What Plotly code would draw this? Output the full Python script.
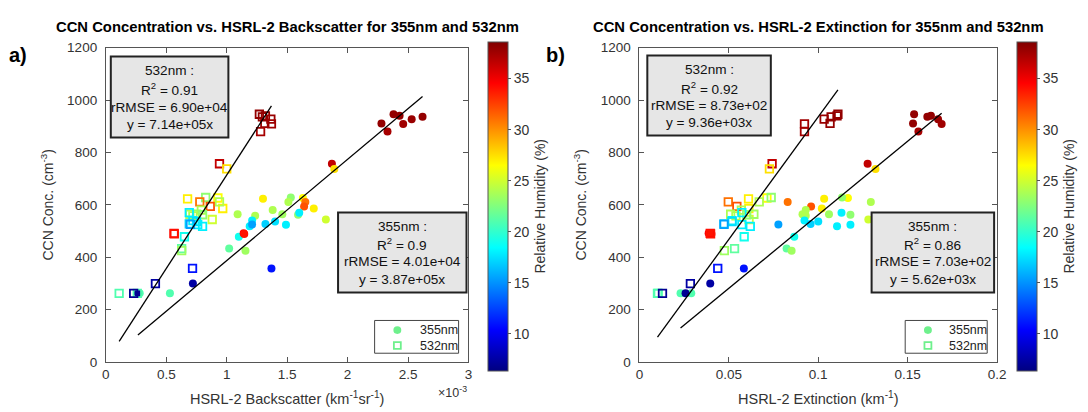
import plotly.graph_objects as go

# ---------------- data ----------------
ccn = [262, 946, 940, 936, 927, 911, 909, 880, 757, 737,
       626, 623, 628, 611, 594, 586, 611, 544, 564, 558,
       580, 564, 562, 570, 540, 527, 536, 524, 518, 525,
       478, 491, 489, 433, 425, 357, 299, 262, 262]
rh = [21.0, 38.0, 38.0, 38.0, 37.8, 38.0, 37.6, 37.4, 36.5, 27.5,
      26.5, 27.0, 23.0, 31.0, 32.0, 27.0, 24.0, 25.0, 24.0, 24.0,
      24.0, 23.5, 23.0, 18.0, 18.0, 17.0, 17.5, 18.0, 18.0, 15.5,
      19.0, 34.5, 34.0, 21.5, 23.5, 11.0, 7.5, 21.0, 7.0]
bsc355 = [0.53e-3, 2.38e-3, 2.43e-3, 2.62e-3, 2.53e-3, 2.28e-3, 2.46e-3, 2.33e-3, 1.87e-3, 1.89e-3,
          1.63e-3, 1.30e-3, 1.53e-3, 1.65e-3, 1.64e-3, 1.72e-3, 1.51e-3, 1.82e-3, 1.09e-3, 1.235e-3,
          1.38e-3, 1.46e-3, 1.59e-3, 1.60e-3, 1.21e-3, 1.32e-3, 1.40e-3, 1.49e-3, 1.19e-3, 1.21e-3,
          1.10e-3, 1.14e-3, 1.145e-3, 1.02e-3, 1.155e-3, 1.37e-3, 0.72e-3, 0.28e-3, 0.265e-3]
bsc532 = [0.11e-3, 1.27e-3, 1.32e-3, 1.295e-3, 1.365e-3, 1.315e-3, 1.37e-3, 1.28e-3, 0.94e-3, 1.00e-3,
          0.927e-3, 0.676e-3, 0.826e-3, 0.777e-3, 0.864e-3, 0.967e-3, 0.94e-3, 0.88e-3, 0.695e-3, 0.72e-3,
          0.79e-3, 0.75e-3, 0.80e-3, 0.69e-3, 0.72e-3, 0.69e-3, 0.75e-3, 0.76e-3, 0.80e-3, 0.70e-3,
          0.65e-3, 0.564e-3, 0.566e-3, 0.627e-3, 0.627e-3, 0.717e-3, 0.41e-3, 0.26e-3, 0.23e-3]
ext355 = [0.0290, 0.1536, 0.1630, 0.1610, 0.1670, 0.1530, 0.1690, 0.1560, 0.1276, 0.1320,
          0.1166, 0.1033, 0.1133, 0.0829, 0.0960, 0.1020, 0.1294, 0.1280, 0.0912, 0.0930,
          0.0930, 0.1060, 0.1180, 0.1130, 0.0923, 0.0957, 0.1000, 0.1180, 0.1105, 0.0777,
          0.0866, 0.0387, 0.0403, 0.0823, 0.0851, 0.0584, 0.0396, 0.0230, 0.0258]
ext532 = [0.0101, 0.1110, 0.1105, 0.1072, 0.1033, 0.1066, 0.0923, 0.0923, 0.0742, 0.0727,
          0.0713, 0.0610, 0.0737, 0.0497, 0.0545, 0.0612, 0.0670, 0.0613, 0.0510, 0.0540,
          0.0570, 0.0640, 0.0600, 0.0573, 0.0518, 0.0473, 0.0518, 0.0573, 0.0620, 0.0473,
          0.0586, 0.0396, 0.0398, 0.0532, 0.0475, 0.0438, 0.0285, 0.0105, 0.0129]

# fit statistics shown in the text boxes
slope_bsc = {"532nm": 7.14e5, "355nm": 3.87e5}
slope_ext = {"532nm": 9.36e3, "355nm": 5.62e3}
r2_bsc = {"532nm": "0.91", "355nm": "0.9"}
r2_ext = {"532nm": "0.92", "355nm": "0.86"}
rrmse_bsc = {"532nm": "6.90e+04", "355nm": "4.01e+04"}
rrmse_ext = {"532nm": "8.73e+02", "355nm": "7.03e+02"}
slope_txt_bsc = {"532nm": "7.14e+05", "355nm": "3.87e+05"}
slope_txt_ext = {"532nm": "9.36e+03", "355nm": "5.62e+03"}

x_ticks_bsc = [0, 0.5e-3, 1e-3, 1.5e-3, 2e-3, 2.5e-3, 3e-3]
x_ticklabels_bsc = ["0", "0.5", "1", "1.5", "2", "2.5", "3"]
x_ticks_ext = [0, 0.05, 0.1, 0.15, 0.2]
y_ticks = [0, 200, 400, 600, 800, 1000, 1200]
cbar_ticks = [10, 15, 20, 25, 30, 35]
legend_names = ["355nm", "532nm"]
legend_color = "rgb(110,240,140)"

# ---------------- layout helpers ----------------
W, H = 1088, 412
FONT = "Liberation Sans, Arial, Helvetica, sans-serif"
def px(x): return x / W
def py(y): return 1 - y / H

jet = [[0.0, "rgb(0,0,128)"], [0.125, "rgb(0,0,255)"], [0.375, "rgb(0,255,255)"],
       [0.625, "rgb(255,255,0)"], [0.875, "rgb(255,0,0)"], [1.0, "rgb(128,0,0)"]]

fig = go.Figure()

panels = [
    dict(xs={"355nm": bsc355, "532nm": bsc532}, slope=slope_bsc, xa="x", ya="y", ca="coloraxis"),
    dict(xs={"355nm": ext355, "532nm": ext532}, slope=slope_ext, xa="x2", ya="y2", ca="coloraxis2"),
]

for p in panels:
    for name, sym, lw in [("355nm", "circle", 0), ("532nm", "square-open", 1.8)]:
        fig.add_trace(go.Scatter(
            x=p["xs"][name], y=ccn, mode="markers", name=name, showlegend=False,
            xaxis=p["xa"], yaxis=p["ya"],
            marker=dict(symbol=sym, size=8 if sym == "circle" else 7.5, color=rh,
                        coloraxis=p["ca"], line=dict(width=lw)),
        ))
    for name in ["532nm", "355nm"]:
        xs = p["xs"][name]
        xl = [min(xs), max(xs)]
        fig.add_trace(go.Scatter(
            x=xl, y=[p["slope"][name] * v for v in xl], mode="lines",
            line=dict(color="black", width=1.3), showlegend=False,
            xaxis=p["xa"], yaxis=p["ya"], hoverinfo="skip"))

axis_common = dict(showline=True, linecolor="#555", linewidth=1, mirror="ticks",
                   ticks="inside", ticklen=5, tickcolor="#555", showgrid=False,
                   zeroline=False, tickfont=dict(size=13.5, color="#333", family=FONT))
ydom = [py(360), py(34)]

def cbar(x0):
    return dict(x=px(x0), xanchor="left", xpad=0, ypad=0,
                y=py((34 + 363) / 2), yanchor="middle",
                len=329, lenmode="pixels", thickness=20, thicknessmode="pixels",
                outlinewidth=1, outlinecolor="#555",
                tickvals=cbar_ticks, ticks="outside", ticklen=3, tickcolor="#555",
                tickfont=dict(size=14, color="#333", family=FONT),
                title=dict(text="Relative Humidity (%)", side="right",
                           font=dict(size=14, color="#333", family=FONT)))

ytitle = dict(text="CCN Conc. (cm<sup>-3</sup>)", font=dict(size=14, color="#333"), standoff=10)

fig.update_layout(
    width=W, height=H, margin=dict(l=0, r=0, t=0, b=0),
    paper_bgcolor="white", plot_bgcolor="white",
    font=dict(family=FONT, color="#333"),
    showlegend=False,
    xaxis=dict(domain=[px(95), px(462)], range=[0, 3e-3], anchor="y",
               tickvals=x_ticks_bsc, ticktext=x_ticklabels_bsc,
               title=dict(text="HSRL-2 Backscatter (km<sup>-1</sup>sr<sup>-1</sup>)",
                          font=dict(size=14.5, color="#333"), standoff=12),
               **axis_common),
    yaxis=dict(domain=ydom, range=[0, 1200], anchor="x", tickvals=y_ticks,
               ticklabelstandoff=5, title=ytitle, **axis_common),
    xaxis2=dict(domain=[px(635), px(997)], range=[0, 0.2], anchor="y2",
                tickvals=x_ticks_ext,
                title=dict(text="HSRL-2 Extinction (km<sup>-1</sup>)",
                           font=dict(size=14.5, color="#333"), standoff=12),
                **axis_common),
    yaxis2=dict(domain=ydom, range=[0, 1200], anchor="x2", tickvals=y_ticks,
                ticklabelstandoff=5, title=ytitle, **axis_common),
    coloraxis=dict(colorscale=jet, cmin=6.4, cmax=38.6, colorbar=cbar(482)),
    coloraxis2=dict(colorscale=jet, cmin=6.4, cmax=38.6, colorbar=cbar(1017)),
)

shapes = []
annots = []

def textbox(x0, x1, y0, y1, lines_y, label, r2, rr, sl):
    shapes.append(dict(type="rect", xref="paper", yref="paper",
                       x0=px(x0), x1=px(x1), y0=py(y1), y1=py(y0),
                       line=dict(color="#222", width=2), fillcolor="#e6e6e6", layer="above"))
    texts = [f"{label} :", f"R<sup>2</sup> = {r2}", f"rRMSE = {rr}", f"y = {sl}x"]
    for t, yy in zip(texts, lines_y):
        annots.append(dict(text=t, x=px((x0 + x1) / 2), y=py(yy), xref="paper", yref="paper",
                           showarrow=False, xanchor="center", yanchor="middle",
                           font=dict(size=13.6, color="#111", family=FONT)))

textbox(100, 219, 43, 127, [58, 77, 96, 114], "532nm",
        r2_bsc["532nm"], rrmse_bsc["532nm"], slope_txt_bsc["532nm"])
textbox(330, 460, 205, 288, [219, 238, 256, 274], "355nm",
        r2_bsc["355nm"], rrmse_bsc["355nm"], slope_txt_bsc["355nm"])
textbox(643, 768, 42, 125, [57, 76, 94, 112], "532nm",
        r2_ext["532nm"], rrmse_ext["532nm"], slope_txt_ext["532nm"])
textbox(870, 994, 205, 288, [219, 238, 256, 274], "355nm",
        r2_ext["355nm"], rrmse_ext["355nm"], slope_txt_ext["355nm"])

def legend_box(x0, x1, y0, y1, mx, tx):
    shapes.append(dict(type="rect", xref="paper", yref="paper",
                       x0=px(x0), x1=px(x1), y0=py(y1), y1=py(y0),
                       line=dict(color="#444", width=1), fillcolor="white", layer="above"))
    yc = [y0 + 10, y0 + 26]
    shapes.append(dict(type="circle", xref="paper", yref="paper",
                       x0=px(mx - 4), x1=px(mx + 4), y0=py(yc[0] + 4), y1=py(yc[0] - 4),
                       line=dict(width=0), fillcolor=legend_color, layer="above"))
    shapes.append(dict(type="rect", xref="paper", yref="paper",
                       x0=px(mx - 3.5), x1=px(mx + 3.5), y0=py(yc[1] + 3.5), y1=py(yc[1] - 3.5),
                       line=dict(width=1.8, color=legend_color), fillcolor="rgba(0,0,0,0)",
                       layer="above"))
    for nm, yy in zip(legend_names, yc):
        annots.append(dict(text=nm, x=px(tx), y=py(yy), xref="paper", yref="paper",
                           showarrow=False, xanchor="left", yanchor="middle",
                           font=dict(size=12.5, color="#222", family=FONT)))

legend_box(367, 452, 317, 351, 390, 411)
legend_box(904, 987, 317, 351, 927, 946)

# titles, panel letters and exponent label
annots += [
    dict(text="<b>CCN Concentration vs. HSRL-2 Backscatter for 355nm and 532nm</b>",
         x=px(278.5), y=py(12), xref="paper", yref="paper", showarrow=False,
         xanchor="center", yanchor="middle", font=dict(size=14.8, color="black", family=FONT)),
    dict(text="<b>CCN Concentration vs. HSRL-2 Extinction for 355nm and 532nm</b>",
         x=px(816), y=py(12), xref="paper", yref="paper", showarrow=False,
         xanchor="center", yanchor="middle", font=dict(size=14.8, color="black", family=FONT)),
    dict(text="<b>a)</b>", x=px(-5), y=py(42), xref="paper", yref="paper", showarrow=False,
         xanchor="left", yanchor="middle", font=dict(size=20, color="black", family=FONT)),
    dict(text="<b>b)</b>", x=px(538), y=py(42), xref="paper", yref="paper", showarrow=False,
         xanchor="left", yanchor="middle", font=dict(size=20, color="black", family=FONT)),
    dict(text="\u00d710<sup>-3</sup>", x=px(463), y=py(391), xref="paper", yref="paper",
         showarrow=False, xanchor="right", yanchor="middle",
         font=dict(size=12.5, color="#333", family=FONT)),
]

fig.update_layout(shapes=shapes, annotations=annots)
fig.write_html("out.html")
